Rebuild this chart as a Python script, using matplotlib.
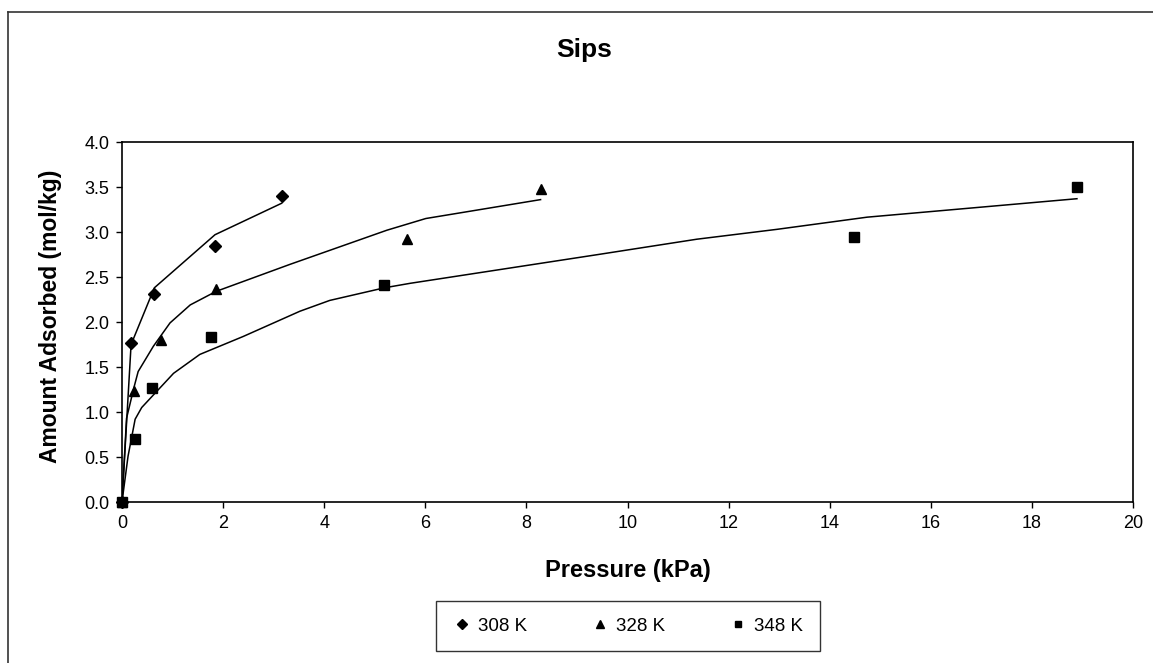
import matplotlib
matplotlib.use('Agg')
import matplotlib.pyplot as plt
from matplotlib.lines import Line2D

plt.rcParams['font.family'] = ['Liberation Sans', 'DejaVu Sans']

# Experimental points
p308 = [0, 0.18, 0.64, 1.84, 3.16]
q308 = [0, 1.77, 2.31, 2.85, 3.40]
p328 = [0, 0.24, 0.77, 1.86, 5.63, 8.28]
q328 = [0, 1.23, 1.80, 2.37, 2.92, 3.48]
p348 = [0, 0.26, 0.60, 1.76, 5.19, 14.48, 18.89]
q348 = [0, 0.70, 1.27, 1.83, 2.41, 2.95, 3.50]

# Sips fit curves
fit308_p = [0, 0.18, 0.64, 1.84, 3.16]
fit308_q = [0, 1.75, 2.38, 2.97, 3.32]
fit328_p = [0, 0.09, 0.24, 0.32, 0.62, 0.95, 1.35, 1.86, 3.32, 5.24, 6.01, 8.28]
fit328_q = [0, 0.93, 1.28, 1.45, 1.73, 1.99, 2.19, 2.34, 2.64, 3.02, 3.15, 3.36]
fit348_p = [0, 0.12, 0.26, 0.39, 1.02, 1.54, 2.40, 3.52, 4.11, 5.19, 5.70,
            9.42, 11.37, 12.96, 14.74, 18.89]
fit348_q = [0, 0.51, 0.92, 1.05, 1.43, 1.64, 1.84, 2.12, 2.24, 2.38, 2.43,
            2.75, 2.92, 3.03, 3.165, 3.37]

labels = ['308 K', '328 K', '348 K']
markers = ['D', '^', 's']

fig = plt.figure(figsize=(11.53, 6.63), dpi=100)
ax = fig.add_axes([0.1058, 0.2428, 0.8769, 0.5430])

# fit lines
for fp, fq in [(fit308_p, fit308_q), (fit328_p, fit328_q), (fit348_p, fit348_q)]:
    ax.plot(fp, fq, color='black', linewidth=1.1, zorder=2)

# data points
handles = []
sizes = [6.5, 7.5, 6.5]
for p, q, lab, m, s in zip([p308, p328, p348], [q308, q328, q348], labels, markers, sizes):
    h, = ax.plot(p, q, linestyle='none', marker=m, markersize=s, color='black',
                 label=lab, zorder=3, clip_on=False)
    handles.append(h)

ax.set_xlim(0, 20)
ax.set_ylim(0, 4.0)
ax.set_xticks(range(0, 21, 2))
ax.set_yticks([i * 0.5 for i in range(9)])
ax.set_yticklabels([f'{i * 0.5:.1f}' for i in range(9)])
ax.tick_params(direction='out', length=4, width=1, labelsize=13, colors='black', pad=5)

for sp in ax.spines.values():
    sp.set_color('black')
    sp.set_linewidth(1.2)

ax.set_xlabel('Pressure (kPa)', fontsize=17, fontweight='bold', va='center')
ax.xaxis.set_label_coords(0.5, -0.189)
ax.set_ylabel('Amount Adsorbed (mol/kg)', fontsize=16.5, fontweight='bold', va='center')
ax.yaxis.set_label_coords(-0.071, 0.517)

fig.text(584 / 1153, 1 - 50 / 663, 'Sips', fontsize=19, fontweight='bold',
         ha='center', va='center')

leg = ax.legend(handles=handles, loc='center', ncol=3,
                bbox_to_anchor=(628 / 1153, 1 - 626 / 663), bbox_transform=fig.transFigure,
                fontsize=13.5, frameon=True, fancybox=False, markerscale=0.75,
                handletextpad=0.35, columnspacing=3.4, handlelength=1.0,
                borderpad=0.9, borderaxespad=0)
leg.get_frame().set_edgecolor('black')
leg.get_frame().set_linewidth(1.0)

# outer chart border (left and top edges visible in the scan)
fig.add_artist(Line2D([8 / 1153, 8 / 1153], [0, 1 - 12 / 663],
                      transform=fig.transFigure, color='#333333', linewidth=1.2))
fig.add_artist(Line2D([8 / 1153, 1], [1 - 12 / 663, 1 - 12 / 663],
                      transform=fig.transFigure, color='#333333', linewidth=1.2))

fig.savefig('out.png', dpi=100)
